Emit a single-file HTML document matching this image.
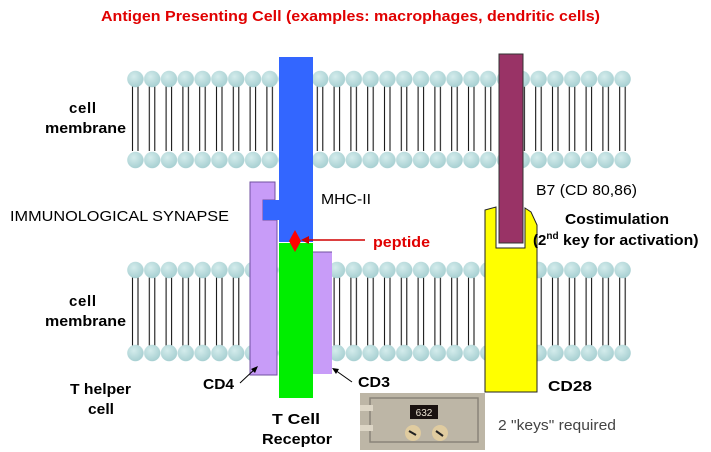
<!DOCTYPE html>
<html><head><meta charset="utf-8"><style>
html,body{margin:0;padding:0;background:#fff;}
svg{display:block;font-family:"Liberation Sans",Arial,sans-serif;}
</style></head><body>
<svg width="711" height="452" viewBox="0 0 711 452" xmlns="http://www.w3.org/2000/svg">
<defs>
<radialGradient id="hg" cx="40%" cy="35%" r="65%">
<stop offset="0" stop-color="#d4ecec"/><stop offset="1" stop-color="#a8d0d2"/>
</radialGradient>
<pattern id="m1" patternUnits="userSpaceOnUse" x="127" y="70" width="16.8" height="100">
<line x1="5.5" y1="9" x2="5.5" y2="81" stroke="#000" stroke-width="1"/>
<line x1="11" y1="9" x2="11" y2="81" stroke="#000" stroke-width="1"/>
<circle cx="8.4" cy="9" r="8.2" fill="url(#hg)"/>
<circle cx="8.4" cy="90" r="8.2" fill="url(#hg)"/>
</pattern>
<pattern id="m2" patternUnits="userSpaceOnUse" x="127" y="261" width="16.8" height="102">
<line x1="5.5" y1="9" x2="5.5" y2="92" stroke="#000" stroke-width="1"/>
<line x1="11" y1="9" x2="11" y2="92" stroke="#000" stroke-width="1"/>
<circle cx="8.4" cy="9" r="8.2" fill="url(#hg)"/>
<circle cx="8.4" cy="92" r="8.2" fill="url(#hg)"/>
</pattern>
</defs>
<text x="101" y="21" fill="#e00000" font-size="15" font-weight="bold" textLength="499" lengthAdjust="spacingAndGlyphs">Antigen Presenting Cell  (examples: macrophages, dendritic cells)</text>
<rect x="127" y="70" width="504" height="100" fill="url(#m1)"/>
<rect x="127" y="261" width="504" height="102" fill="url(#m2)"/>
<!-- CD4 -->
<path d="M250 182 H275 V200 H263 V220 H277 V375 H250 Z" fill="#c89cf8" stroke="#7050a0" stroke-width="1"/>
<!-- MHC -->
<path d="M279 57 H313 V242 H279 V220 H263 V200 H279 Z" fill="#3366ff"/>
<!-- TCR green -->
<rect x="279" y="243" width="34" height="155" fill="#00ee00"/>
<!-- CD3 -->
<rect x="313" y="252" width="19" height="122" fill="#c89cf8"/>
<line x1="313" y1="252" x2="332" y2="252" stroke="#7050a0"/>
<!-- peptide -->
<polygon points="295,230 301,241 295,252 289,241" fill="#ff0000"/>
<line x1="303" y1="240" x2="365" y2="240" stroke="#d00000" stroke-width="1.5"/>
<polygon points="301,240 309,236 309,244" fill="#d00000"/>
<!-- CD28 -->
<path d="M485 210 L496 207 V248 H525 V208 L531 212 L537 225 V392 H485 Z" fill="#ffff00" stroke="#222" stroke-width="1"/>
<!-- B7 -->
<rect x="499" y="54" width="24" height="189" fill="#993366" stroke="#333" stroke-width="1"/>
<!-- arrows -->
<line x1="240" y1="383" x2="256" y2="368" stroke="#000"/>
<polygon points="258,366 251,369 255,373" fill="#000"/>
<line x1="352" y1="382" x2="335" y2="370" stroke="#000"/>
<polygon points="332,368 339,369 336,374" fill="#000"/>
<!-- safe -->
<rect x="360" y="393" width="125" height="57" fill="#bdb6a6"/>
<rect x="370" y="398" width="108" height="44" fill="none" stroke="#8a8478" stroke-width="1.5"/>
<rect x="360" y="405" width="13" height="6" fill="#ddd6c6"/>
<rect x="360" y="425" width="13" height="6" fill="#ddd6c6"/>
<rect x="410" y="405" width="28" height="14" fill="#1a1210"/>
<text x="424" y="416" fill="#e8e0d0" font-size="10" text-anchor="middle">632</text>
<circle cx="413" cy="433" r="8" fill="#e0cca0"/>
<circle cx="440" cy="433" r="8" fill="#e0cca0"/>
<line x1="409" y1="431" x2="416" y2="435" stroke="#222" stroke-width="2"/>
<line x1="436" y1="431" x2="443" y2="436" stroke="#222" stroke-width="2"/>
<!-- labels -->
<g font-size="15" font-weight="bold" fill="#000" lengthAdjust="spacingAndGlyphs">
<text x="69" y="113" textLength="27">cell</text>
<text x="45" y="133" textLength="81" lengthAdjust="spacingAndGlyphs">membrane</text>
<text x="69" y="306" textLength="27">cell</text>
<text x="45" y="326" textLength="81" lengthAdjust="spacingAndGlyphs">membrane</text>
<text x="70" y="394" textLength="61" lengthAdjust="spacingAndGlyphs">T helper</text>
<text x="88" y="414" textLength="26" lengthAdjust="spacingAndGlyphs">cell</text>
<text x="203" y="389" textLength="31" lengthAdjust="spacingAndGlyphs">CD4</text>
<text x="358" y="387" textLength="32" lengthAdjust="spacingAndGlyphs">CD3</text>
<text x="548" y="391" textLength="44" lengthAdjust="spacingAndGlyphs">CD28</text>
<text x="272" y="424" textLength="48" lengthAdjust="spacingAndGlyphs">T Cell</text>
<text x="262" y="444" textLength="70" lengthAdjust="spacingAndGlyphs">Receptor</text>
<text x="565" y="224" textLength="104" lengthAdjust="spacingAndGlyphs">Costimulation</text>
<text x="533" y="245">(2<tspan font-size="10" dy="-6">nd</tspan><tspan dy="6" textLength="140" lengthAdjust="spacingAndGlyphs"> key for activation)</tspan></text>
</g>
<g font-size="15" fill="#000">
<text x="10" y="221" textLength="219" lengthAdjust="spacingAndGlyphs">IMMUNOLOGICAL SYNAPSE</text>
<text x="321" y="204" textLength="50" lengthAdjust="spacingAndGlyphs">MHC-II</text>
<text x="536" y="195" textLength="101" lengthAdjust="spacingAndGlyphs">B7 (CD 80,86)</text>
</g>
<text x="373" y="247" font-size="15" font-weight="bold" fill="#e00000" textLength="57" lengthAdjust="spacingAndGlyphs">peptide</text>
<text x="498" y="430" font-size="15" fill="#444" textLength="118" lengthAdjust="spacingAndGlyphs">2 "keys" required</text>
</svg>
</body></html>
